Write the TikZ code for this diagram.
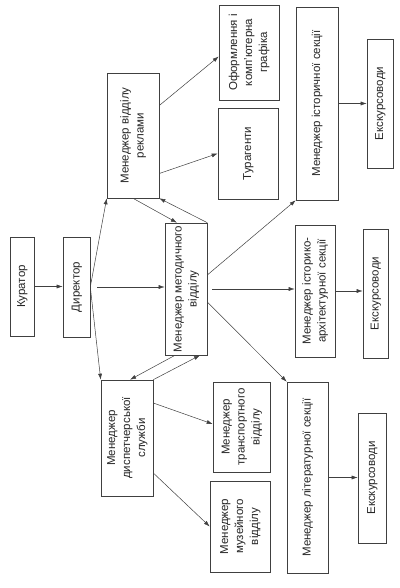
\documentclass[tikz,border=0pt]{standalone}
\usepackage{fontspec}
\setmainfont{Liberation Sans}
\usetikzlibrary{arrows.meta}
\newcommand{\mkbox}[6]{%
  \pgfmathsetmacro{\mkW}{#4-#2}%
  \pgfmathsetmacro{\mkH}{#5-#3}%
  \pgfmathsetmacro{\mkX}{(#2+#4)/2}%
  \pgfmathsetmacro{\mkY}{588-(#3+#5)/2}%
  \node[box, minimum width=\mkW pt, minimum height=\mkH pt] (#1) at (\mkX pt,\mkY pt)
    {\rotatebox{90}{\begin{tabular}{@{}c@{}}#6\end{tabular}}};%
}
\begin{document}
\begin{tikzpicture}[x=1pt,y=1pt,
  box/.style={draw=black!75, line width=0.6pt, inner sep=0pt, rectangle,
    font=\fontsize{11.5}{15}\selectfont, text=black!85},
  arr/.style={draw=black!75, line width=0.5pt, -{Latex[length=6pt,width=4pt]}}]
\useasboundingbox[fill=white] (0,0) rectangle (399,588);

\mkbox{kur}{10}{237}{34}{336}{Куратор}
\mkbox{dir}{63}{237}{90}{337}{Директор}
\mkbox{met}{165}{223}{207}{355}{Менеджер методичного\\відділу}
\mkbox{rek}{107}{73}{159}{198}{Менеджер відділу\\реклами}
\mkbox{disp}{101}{380}{153}{496}{Менеджер\\диспетчерської\\служби}
\mkbox{ofo}{219}{5}{279}{100}{Оформлення і\\комп’ютерна\\графіка}
\mkbox{tur}{218}{108}{278}{199}{Турагенти}
\mkbox{ist}{296}{7}{338}{200}{Менеджер історичної секції}
\mkbox{exa}{367}{39}{393}{168}{Екскурсоводи}
\mkbox{arch}{295}{225}{335}{357}{Менеджер історико-\\архітектурної секції}
\mkbox{exb}{363}{229}{388}{358}{Екскурсоводи}
\mkbox{trans}{213}{382}{270}{472}{Менеджер\\транспортного\\відділу}
\mkbox{muz}{210}{481}{270}{572}{Менеджер\\музейного\\відділу}
\mkbox{lit}{287}{382}{328}{573}{Менеджер літературної секції}
\mkbox{exc}{358}{413}{386}{543}{Екскурсоводи}

\draw[arr] (kur.east) -- (kur.east -| dir.west);
\draw[arr] (dir.east) -- (rek.south west);
\draw[arr] (dir.east) -- (disp.north west);
\draw[arr] ([xshift=7pt]dir.east) -- (dir.east -| met.west);
\draw[arr] (rek.south) -- ([xshift=-9pt]met.north);
\draw[arr] (met.north east) -- (rek.south east);
\draw[arr] ([yshift=30pt]rek.east) -- ([yshift=-4pt]ofo.west);
\draw[arr] ([yshift=-38pt]rek.east) -- (tur.west);
\draw[arr] ([yshift=14pt]met.east) -- (ist.south west);
\draw[arr] ([xshift=5pt]met.east) -- (met.east -| arch.west);
\draw[arr] ([yshift=-13pt]met.east) -- (lit.north west);
\draw[arr] ([xshift=-11pt]met.south) -- ([xshift=3pt]disp.north);
\draw[arr] (disp.north east) -- ([xshift=14pt]met.south);
\draw[arr] ([yshift=35pt]disp.east) -- ([yshift=3pt]trans.west);
\draw[arr] ([yshift=-35pt]disp.east) -- (muz.west);
\draw[arr] (ist.east) -- (ist.east -| exa.west);
\draw[arr] (arch.east) -- (arch.east -| exb.west);
\draw[arr] (lit.east) -- (lit.east -| exc.west);
\end{tikzpicture}
\end{document}
